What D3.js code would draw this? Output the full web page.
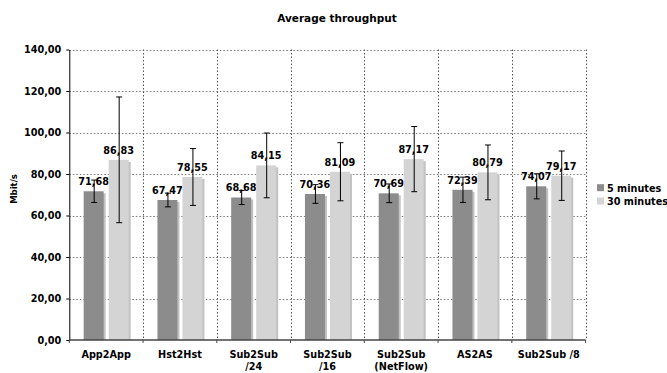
<!DOCTYPE html>
<html lang="en">
<head>
  <meta charset="UTF-8">
  <title>Average throughput</title>
  <script src="https://d3js.org/d3.v7.min.js"></script>
  <style>
    body { margin: 0; background: #fff; }
  </style>
</head>
<body>
<svg></svg>
<script>
  // data
  const categories = ['App2App', 'Hst2Hst', 'Sub2Sub\n/24', 'Sub2Sub\n/16', 'Sub2Sub\n(NetFlow)', 'AS2AS', 'Sub2Sub /8']
  const series = ['5 minutes', '30 minutes']
  const fiveMin = [71.68, 67.47, 68.68, 70.36, 70.69, 72.39, 74.07]
  const thirtyMin = [86.83, 78.55, 84.15, 81.09, 87.17, 80.79, 79.17]
  const fiveMinErr = [5.4, 3.3, 3.4, 4.5, 4.5, 6.1, 6.05]
  const thirtyMinErr = [30.3, 13.7, 15.6, 14.0, 15.7, 13.2, 11.9]
  const yTicks = [0, 20, 40, 60, 80, 100, 120, 140]
  const colors = ['#8c8c8c', '#d4d4d4']

  const width = 667, height = 373
  const margin = {top: 49.5, right: 81.4, bottom: 33, left: 69.3}

  const fmt = d3.formatLocale({decimal: ',', thousands: '.', grouping: [3], currency: ['', '']}).format('.2f')

  // flatten into rows for drawing
  const rows = []
  categories.forEach((c, i) => {
    rows.push({cat: c, s: series[0], v: fiveMin[i], e: fiveMinErr[i], k: 0})
    rows.push({cat: c, s: series[1], v: thirtyMin[i], e: thirtyMinErr[i], k: 1})
  })

  const x = d3.scaleBand()
      .domain(categories)
      .range([margin.left, width - margin.right])
      .padding(0)

  const groupW = 45
  const xs = d3.scaleBand()
      .domain(series)
      .range([0, groupW])
      .paddingInner(0.2)
  const groupOff = (x.bandwidth() - groupW) / 2

  const y = d3.scaleLinear()
      .domain([0, 140])
      .range([height - margin.bottom, margin.top])

  const svg = d3.select('svg')
      .attr('width', width)
      .attr('height', height)
      .attr('viewBox', [0, 0, width, height])
      .attr('font-family', '"DejaVu Sans", Verdana, sans-serif')
      .attr('font-weight', 'bold')
      .attr('font-size', '9.7px')

  // title
  svg.append('text')
      .attr('x', 337)
      .attr('y', 22)
      .attr('text-anchor', 'middle')
      .attr('font-size', '10.5px')
      .text('Average throughput')

  // horizontal grid
  svg.append('g')
      .selectAll('line')
      .data(yTicks.filter(d => d > 0))
      .join('line')
      .attr('x1', margin.left)
      .attr('x2', width - margin.right)
      .attr('y1', d => Math.round(y(d)) + 0.5)
      .attr('y2', d => Math.round(y(d)) + 0.5)
      .attr('stroke', '#777')
      .attr('stroke-dasharray', '1.5,2')

  // vertical separators (category boundaries + right border)
  const bounds = categories.slice(1).map(c => x(c)).concat([width - margin.right])
  svg.append('g')
      .selectAll('line')
      .data(bounds)
      .join('line')
      .attr('x1', d => Math.round(d) + 0.5)
      .attr('x2', d => Math.round(d) + 0.5)
      .attr('y1', y(140))
      .attr('y2', y(0))
      .attr('stroke', '#555')
      .attr('stroke-dasharray', '1.5,2')

  const bar = svg.append('g')
      .selectAll('g')
      .data(rows)
      .join('g')
      .attr('transform', d => `translate(${x(d.cat) + groupOff + xs(d.s)},0)`)

  // shadow
  bar.append('rect')
      .attr('x', 2)
      .attr('y', d => y(d.v) + 2)
      .attr('width', xs.bandwidth())
      .attr('height', d => y(0) - y(d.v) - 2)
      .attr('fill', '#c2c2c2')

  bar.append('rect')
      .attr('x', 0)
      .attr('y', d => y(d.v))
      .attr('width', xs.bandwidth())
      .attr('height', d => y(0) - y(d.v))
      .attr('fill', d => colors[d.k])

  // value labels
  bar.append('text')
      .attr('x', xs.bandwidth() / 2)
      .attr('y', d => y(d.v) - 6)
      .attr('text-anchor', 'middle')
      .text(d => fmt(d.v))

  // error bars
  const cap = 3
  bar.append('path')
      .attr('d', d => {
        const cx = xs.bandwidth() / 2 + 0.5
        const t = y(d.v + d.e), b = y(d.v - d.e)
        return `M${cx},${t}V${b}M${cx - cap},${t}H${cx + cap}M${cx - cap},${b}H${cx + cap}`
      })
      .attr('fill', 'none')
      .attr('stroke', '#000')
      .attr('stroke-width', 1)

  // y axis
  svg.append('g')
      .attr('transform', `translate(${margin.left},0)`)
      .call(d3.axisLeft(y).tickValues(yTicks).tickSize(3).tickPadding(5).tickFormat(fmt).tickSizeOuter(0))
      .call(g => g.selectAll('text').attr('font-family', null).attr('font-size', null).attr('fill', '#000'))
      .call(g => g.attr('font-family', null).attr('font-size', null))

  // x axis line and boundary ticks
  const xa = svg.append('g')
  xa.append('line')
      .attr('x1', margin.left)
      .attr('x2', width - margin.right)
      .attr('y1', y(0))
      .attr('y2', y(0))
      .attr('stroke', '#444')
      .attr('stroke-width', 1.5)
  xa.selectAll('line.tick')
      .data([margin.left].concat(bounds))
      .join('line')
      .attr('class', 'tick')
      .attr('x1', d => d)
      .attr('x2', d => d)
      .attr('y1', y(0))
      .attr('y2', y(0) + 3)
      .attr('stroke', '#444')

  const xl = xa.selectAll('text')
      .data(categories)
      .join('text')
      .attr('text-anchor', 'middle')
      .attr('x', d => x(d) + x.bandwidth() / 2)
      .attr('y', 357.5)
  xl.selectAll('tspan')
      .data(d => d.split('\n'))
      .join('tspan')
      .attr('x', function () { return d3.select(this.parentNode).attr('x') })
      .attr('dy', (d, i) => i === 0 ? 0 : 12)
      .text(d => d)

  // y axis title
  svg.append('text')
      .attr('transform', 'translate(16.5,189) rotate(-90)')
      .attr('text-anchor', 'middle')
      .attr('font-size', '8.5px')
      .text('Mbit/s')

  // legend
  const leg = svg.append('g')
      .selectAll('g')
      .data(series)
      .join('g')
      .attr('transform', (d, i) => `translate(597,${184.2 + i * 13.3})`)
  leg.append('rect')
      .attr('width', 7)
      .attr('height', 7)
      .attr('fill', (d, i) => colors[i])
  leg.append('text')
      .attr('x', 10)
      .attr('y', 7.3)
      .text(d => d)
</script>
</body>
</html>
